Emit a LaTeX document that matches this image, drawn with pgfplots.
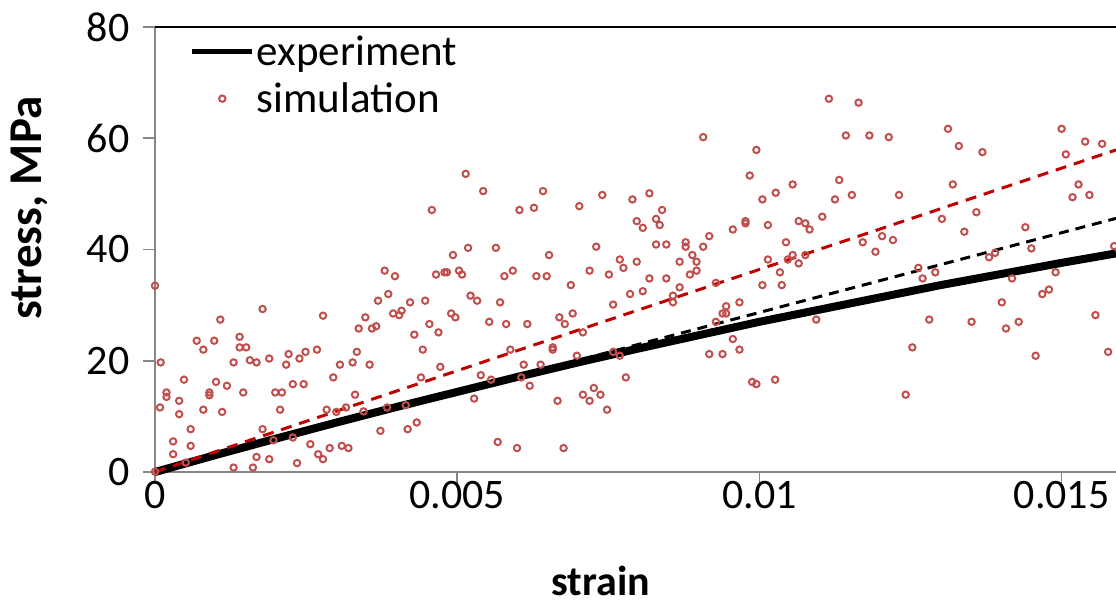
\documentclass[border=0pt]{standalone}
\usepackage{fontspec}
\setmainfont{Carlito}
\usepackage{pgfplots}
\pgfplotsset{compat=1.18}
\definecolor{simred}{HTML}{C0504D}
\definecolor{fitred}{HTML}{C00000}
\definecolor{axgray}{HTML}{868686}

\pgfplotstableread{
x y
0 0
0.001 3.04
0.002 6.0
0.003 8.89
0.004 11.7
0.005 14.4
0.006 17.1
0.007 19.7
0.008 22.2
0.009 24.6
0.010 27.0
0.011 29.2
0.012 31.4
0.013 33.6
0.014 35.6
0.015 37.6
0.0159 39.3
}\experiment

\pgfplotstableread{
x y
0 33.5
0.000094 19.7
0.000083 11.6
0.00019 14.3
0.00019 13.5
0 0.05
0.0003 5.5
0.0003 3.2
0.0004 12.8
0.0004 10.4
0.00048 16.6
0.00059 7.7
0.00059 4.7
0.00069 23.6
0.0008 22.0
0.0008 11.2
0.0009 14.3
0.0009 13.8
0.00098 23.6
0.00101 16.2
0.00108 27.4
0.00111 10.8
0.00119 15.5
0.0013 19.7
0.0013 0.8
0.0014 24.3
0.0014 22.4
0.00151 22.4
0.00146 14.3
0.00157 20.1
0.00162 0.8
0.00168 19.7
0.00168 2.7
0.00178 29.3
0.00178 7.7
0.00189 20.4
0.00189 2.3
0.00199 14.3
0.0021 14.3
0.00196 5.7
0.00207 11.2
0.00217 19.3
0.00221 21.2
0.00228 15.8
0.00228 6.2
0.00235 1.6
0.00239 20.4
0.00246 15.8
0.00249 21.6
0.00257 5.0
0.00268 22.0
0.0027 3.2
0.00278 28.1
0.00278 2.3
0.00284 11.2
0.00289 4.3
0.003 10.8
0.00295 17.0
0.00306 19.3
0.00309 4.7
0.00316 11.6
0.0032 4.3
0.00327 19.7
0.00331 13.9
0.00334 21.6
0.00337 25.8
0.00051 1.7
0.00514 53.6
0.00543 50.5
0.00458 47.1
0.00603 47.1
0.00627 47.5
0.00642 50.5
0.00518 40.3
0.00564 40.3
0.00493 39.0
0.00652 39.0
0.0038 36.2
0.00397 35.2
0.00465 35.5
0.00479 35.9
0.00483 35.9
0.00503 36.2
0.00508 35.5
0.00578 35.2
0.00592 36.2
0.00631 35.2
0.00648 35.2
0.00386 32.0
0.00369 30.8
0.00422 30.5
0.00447 30.8
0.00522 31.7
0.00533 30.8
0.00571 30.5
0.00394 28.5
0.00404 28.2
0.00408 29.0
0.0049 28.5
0.00497 27.8
0.00348 27.8
0.00359 25.8
0.00366 26.2
0.00429 24.7
0.00454 26.6
0.00469 25.1
0.00553 27.0
0.00581 26.6
0.00616 26.6
0.00669 27.8
0.00678 26.6
0.00443 22.0
0.00588 22.0
0.00658 22.4
0.00658 22.0
0.00355 19.3
0.00472 18.9
0.0061 19.3
0.00638 19.3
0.0044 17.0
0.00539 17.4
0.00556 16.6
0.00606 17.0
0.0062 15.5
0.00528 13.2
0.00666 12.8
0.00345 10.9
0.00384 11.6
0.00415 12.0
0.00373 7.4
0.00418 7.7
0.00433 8.9
0.00567 5.4
0.00599 4.3
0.00676 4.3
0.00907 60.2
0.00995 57.9
0.00984 53.3
0.0074 49.8
0.00702 47.8
0.0079 49.0
0.00818 50.1
0.00839 47.1
0.00797 45.1
0.00807 43.9
0.00829 45.5
0.00835 44.4
0.01005 49.0
0.00977 45.1
0.00977 44.7
0.01014 44.4
0.00956 43.6
0.00917 42.4
0.0073 40.5
0.00829 40.9
0.00846 40.9
0.00878 41.3
0.00878 40.5
0.00907 40.5
0.00769 38.2
0.00797 37.8
0.00775 36.7
0.00719 36.2
0.00751 35.5
0.00868 37.8
0.00889 39.0
0.00896 37.8
0.00896 36.2
0.00885 35.5
0.00818 34.8
0.00846 34.8
0.01014 38.2
0.01005 33.6
0.00928 34.0
0.00688 33.6
0.00807 32.5
0.00786 32.0
0.00868 33.2
0.00857 31.7
0.00857 30.5
0.00758 30.1
0.00967 30.5
0.00945 29.8
0.00939 28.5
0.00945 28.5
0.00691 28.5
0.00928 27.0
0.00708 25.1
0.00956 23.9
0.00967 22.0
0.00917 21.2
0.00939 21.2
0.00698 20.9
0.00758 21.6
0.00769 20.9
0.00779 17.0
0.00726 15.1
0.00708 13.9
0.00737 13.9
0.00719 12.8
0.00748 11.2
0.00988 16.2
0.00995 15.8
0.01115 67.1
0.01164 66.4
0.01143 60.5
0.01182 60.5
0.01214 60.2
0.01312 61.7
0.0133 58.6
0.0132 51.7
0.01132 52.5
0.01055 51.7
0.01027 50.2
0.01153 49.8
0.01125 49.0
0.01231 49.8
0.01065 45.1
0.01076 44.7
0.01083 43.6
0.01104 45.9
0.01302 45.5
0.01339 43.2
0.01044 41.3
0.01171 41.3
0.01203 42.4
0.01221 41.7
0.01192 39.6
0.01055 39.0
0.01076 39.0
0.01047 38.2
0.01065 37.5
0.01034 35.9
0.01037 33.6
0.01263 36.7
0.0127 34.8
0.01291 35.9
0.01094 27.4
0.01281 27.4
0.01253 22.4
0.01026 16.6
0.01242 13.9
0.015 61.7
0.01539 59.4
0.01567 59.0
0.01507 57.1
0.01369 57.5
0.01528 51.7
0.01518 49.4
0.01546 49.8
0.01359 46.7
0.0144 44.0
0.0145 40.2
0.01587 40.6
0.0138 38.6
0.0139 39.4
0.01418 34.8
0.0149 35.9
0.01468 32.0
0.01479 32.8
0.01401 30.5
0.01351 27.0
0.01408 25.8
0.01429 27.0
0.01556 28.2
0.01457 20.9
0.01577 21.6
}\simulation

\begin{document}
\begin{tikzpicture}
\useasboundingbox (0,0) rectangle (1116pt,605pt);
\begin{axis}[
  at={(155pt,133pt)}, anchor=south west,
  scale only axis, width=961pt, height=445pt,
  xmin=0, xmax=0.0159, ymin=0, ymax=80,
  clip=false,
  axis lines=left,
  axis line style={-, axgray, line width=1.5pt},
  xtick={0,0.005,0.01,0.015}, xticklabels={0,0.005,0.01,0.015},
  ytick={0,20,40,60,80},
  scaled x ticks=false,
  tick align=outside, major tick length=12pt,
  tick style={axgray, line width=1.5pt},
  /pgf/number format/assume math mode=true,
  ticklabel style={font=\fontsize{42}{50}\selectfont},
  xticklabel style={yshift=6pt},
  yticklabel style={xshift=-10pt},
  xlabel={strain}, ylabel={stress, MPa},
  xlabel style={font=\fontsize{42}{50}\selectfont\bfseries, at={(axis description cs:0.464,-0.245)}, anchor=center},
  ylabel style={font=\fontsize{47}{56}\selectfont\bfseries, at={(axis description cs:-0.131,0.593)}, anchor=center},
  legend style={draw=none, fill=none, at={(axis description cs:0.036,0.985)}, anchor=north west,
    font=\fontsize{43}{52}\selectfont, inner sep=0pt, row sep=12pt,
    nodes={inner sep=2pt}},
  legend cell align=left,
  legend image code/.code={\draw[mark repeat=2,mark phase=2,#1] plot coordinates {(0pt,0pt) (30pt,0pt) (60pt,0pt)};},
]
\draw[black, line width=2pt] (rel axis cs:0,1) -- (rel axis cs:1,1);
\addplot[black, line width=8pt, line join=round, mark=none, legend image post style={line width=5pt}] table {\experiment};
\addlegendentry{experiment}
\addplot[black, line width=3pt, dash pattern=on 10pt off 7pt, mark=none, forget plot] coordinates {(0,0) (0.0159,45.6)};
\addplot[fitred, line width=3pt, dash pattern=on 11pt off 8pt, mark=none, forget plot] coordinates {(0,0) (0.0159,57.9)};
\addplot[only marks, mark=o, mark size=3.2pt, simred, line width=2pt] table {\simulation};
\addlegendentry{simulation}
\end{axis}
\end{tikzpicture}
\end{document}
